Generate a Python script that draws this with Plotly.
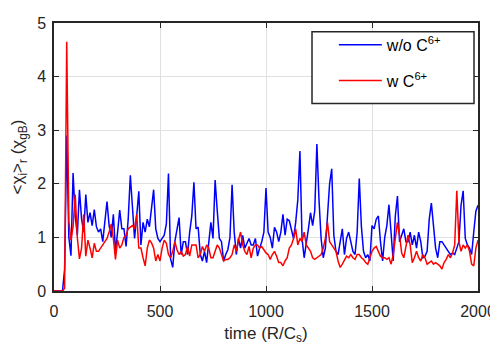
import numpy as np
import plotly.graph_objects as go

time = list(range(0, 2001, 10))

chi_without = [
    0, 0, 0, 0, 0, 0.4, 2.9, 1.0, 0.66, 2.2,
    1.4, 1.04, 1.89, 1.35, 1.1, 1.8, 1.28, 1.46, 1.22, 1.52,
    1.2, 1.1, 1.16, 0.92, 1.3, 1.67, 1.22, 1.0, 1.43, 0.74,
    1.1, 1.51, 1.16, 1.16, 0.83, 1.34, 2.16, 1.46, 0.98, 1.4,
    1.86, 0.86, 1.28, 1.1, 1.34, 1.2, 1.52, 1.89, 1.16, 0.98,
    0.92, 0.98, 1.04, 1.25, 2.19, 0.6, 0.44, 0.92, 1.16, 1.37,
    0.68, 0.92, 0.92, 0.68, 1.1, 1.4, 2.03, 1.16, 1.19, 0.68,
    0.56, 0.74, 0.53, 0.86, 1.28, 0.98, 2.07, 1.5, 0.98, 0.92,
    0.56, 0.68, 0.77, 1.0, 1.98, 1.1, 0.68, 0.98, 0.8, 1.04,
    0.8, 0.89, 0.98, 0.86, 0.86, 0.98, 0.65, 0.8, 0.92, 1.1,
    1.92, 1.1, 1.0, 0.8, 1.19, 1.1, 0.92, 1.1, 1.43, 1.04,
    1.34, 1.31, 1.16, 0.98, 1.28, 1.7, 2.61, 0.98, 0.62, 0.86,
    1.16, 1.46, 1.22, 1.5, 2.74, 1.7, 0.98, 0.62, 0.8, 1.4,
    2.0, 2.28, 1.04, 0.74, 0.68, 0.92, 1.16, 0.68, 0.98, 1.1,
    0.92, 0.74, 0.68, 1.1, 2.1, 1.2, 0.74, 0.62, 0.68, 0.56,
    1.22, 1.16, 1.34, 1.4, 0.92, 0.56, 1.0, 1.22, 1.61, 1.1,
    0.56, 1.4, 1.77, 0.92, 1.04, 1.16, 0.92, 0.92, 1.1, 0.86,
    1.04, 0.8, 1.1, 0.92, 0.62, 0.65, 0.74, 1.34, 1.64, 1.28,
    0.8, 0.62, 0.92, 0.92, 0.86, 0.8, 0.74, 0.68, 0.71, 0.68,
    0.8, 0.92, 1.6, 1.87, 0.98, 0.86, 0.8, 0.68, 1.1, 1.49,
    1.6,
]

chi_with = [
    0, 0, 0, 0, 0, 0.05, 4.65, 1.3, 0.95, 1.2,
    1.8, 1.0, 0.6, 0.8, 1.43, 0.65, 0.95, 0.8, 0.62, 0.89,
    0.74, 0.74, 0.8, 0.84, 0.92, 0.98, 1.1, 1.25, 0.98, 0.59,
    0.95, 0.8, 0.86, 1.0, 1.04, 1.16, 1.19, 1.22, 1.16, 1.43,
    0.8, 0.8, 0.62, 0.47, 0.8, 0.95, 0.9, 0.8, 0.56, 0.68,
    0.56, 0.8, 0.95, 0.89, 0.68, 0.62, 0.74, 0.92, 0.77, 0.68,
    0.74, 0.65, 0.68, 0.83, 0.65, 0.86, 0.86, 0.86, 0.62, 0.68,
    0.83, 0.74, 0.86, 0.8, 0.62, 0.62, 0.74, 0.86, 0.8, 0.68,
    0.56, 0.59, 0.59, 0.62, 0.68, 0.86, 0.74, 0.95, 1.1, 0.86,
    0.74, 0.68, 0.83, 0.62, 0.8, 0.86, 0.86, 0.8, 0.83, 0.77,
    0.71, 0.68, 0.59, 0.68, 0.74, 0.65, 0.53, 0.53, 0.47, 0.56,
    0.62, 0.8, 0.86, 0.98, 1.16, 0.86, 0.98, 0.92, 1.1, 0.86,
    0.8, 0.74, 0.62, 0.59, 0.62, 0.65, 0.68, 0.8, 0.98, 1.28,
    0.92, 0.86, 0.8, 0.74, 0.56, 0.44, 0.5, 0.59, 0.65, 0.62,
    0.68, 0.62, 0.59, 0.68, 0.68, 0.62, 0.59, 0.53, 0.5, 0.62,
    0.74, 0.8, 0.83, 0.74, 0.65, 0.62, 0.62, 0.59, 0.62, 0.5,
    0.68, 0.98, 1.28, 1.04, 0.71, 0.62, 0.86, 1.04, 0.86, 0.53,
    0.62, 0.74, 0.62, 0.56, 0.68, 0.62, 0.5, 0.53, 0.56, 0.5,
    0.53, 0.5, 0.47, 0.41, 0.53, 0.59, 0.68, 0.62, 0.71, 0.86,
    1.87, 0.92, 0.74, 0.86, 0.8, 0.86, 0.74, 0.5, 0.47, 0.8,
    0.95,
]

x_ticks = [0, 500, 1000, 1500, 2000]
y_ticks = [0, 1, 2, 3, 4, 5]

series_names = ["w/o C<sup>6+</sup>", "w C<sup>6+</sup>"]
series_colors = ["#0000ff", "#ff0000"]

AX = "#262626"
FONT = "Liberation Sans, Arial, sans-serif"

fig = go.Figure()
for name, vals, col in zip(series_names, [chi_without, chi_with], series_colors):
    fig.add_trace(go.Scatter(
        x=time, y=vals, mode="lines", name=name, legendgroup=name,
        line=dict(color=col, width=1.5),
    ))

axis_common = dict(
    showline=True, linecolor=AX, linewidth=1.5, mirror="allticks",
    ticks="inside", ticklen=5, tickcolor=AX, tickwidth=1,
    showgrid=True, gridcolor="#e0e0e0", gridwidth=1,
    zeroline=False, tickfont=dict(family=FONT, size=16, color=AX),
)

fig.update_xaxes(range=[0, 2000], tickvals=x_ticks, ticklabelstandoff=5,
                 title=dict(text="time (R/C<sub>s</sub>)", font=dict(family=FONT, size=17, color=AX), standoff=8),
                 **axis_common)
fig.update_yaxes(range=[0, 5], tickvals=y_ticks, ticklabelstandoff=3,
                 title=dict(text="<χ<sub>i</sub>><sub>r</sub> (χ<sub>gB</sub>)", font=dict(family=FONT, size=17, color=AX), standoff=10),
                 **axis_common)

# legend frame (drawn under the legend entries, above the traces)
fig.add_shape(type="rect", xref="paper", yref="paper",
              x0=0.6085, x1=0.9906, y0=0.6993, y1=0.9674,
              fillcolor="white", line=dict(color=AX, width=1.5), layer="above")

fig.update_layout(
    width=498, height=347,
    margin=dict(l=46, r=28, t=7, b=64),
    plot_bgcolor="white", paper_bgcolor="white",
    font=dict(family=FONT, color=AX),
    showlegend=True,
    legend=dict(
        x=0.660, y=0.982, xanchor="left", yanchor="top",
        bgcolor="rgba(0,0,0,0)", borderwidth=0,
        font=dict(family=FONT, size=16, color="#000000"),
        tracegroupgap=12, itemwidth=43,
    ),
)

fig.write_html("out.html")
